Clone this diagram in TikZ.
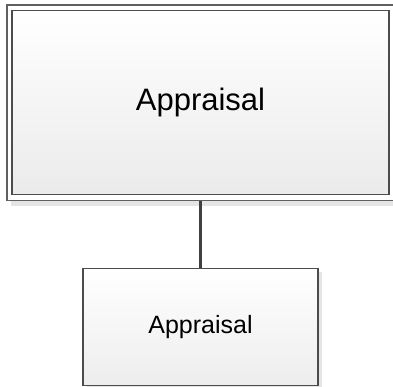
\documentclass[tikz,border=0pt]{standalone}
\usepackage{fontspec}
\setmainfont{Liberation Sans}
\usetikzlibrary{positioning, shadows}

\begin{document}
\begin{tikzpicture}[
  x=1pt, y=-1pt,
  frame/.style={draw=gray!75!black, line width=1.4pt, fill=white, minimum width=387pt, minimum height=195.5pt,
    drop shadow={shadow xshift=4pt, shadow yshift=-5.5pt, fill=black!10, opacity=1}},
  boxmain/.style={draw=black!70, line width=1.3pt, top color=white, bottom color=black!8, align=center,
    minimum width=377pt, minimum height=184pt, font=\fontsize{31}{36}\selectfont},
  boxsub/.style={draw=black!70, line width=1.3pt, top color=white, bottom color=black!7, align=center,
    minimum width=235pt, minimum height=117pt, font=\fontsize{25}{30}\selectfont,
    drop shadow={shadow xshift=4pt, shadow yshift=-4pt, fill=black!10, opacity=1}},
  link/.style={draw=black!75, line width=3pt}
]
\useasboundingbox (0,0) rectangle (393,386);
\node[frame] (outer) at (200.5,102.75) {};
\node[boxmain] (appraisal) at (outer.center) {Appraisal};
\node[boxsub, below=66.5pt of outer] (subappraisal) {Appraisal};

\draw[link] (outer.south) -- (subappraisal.north);
\end{tikzpicture}
\end{document}
